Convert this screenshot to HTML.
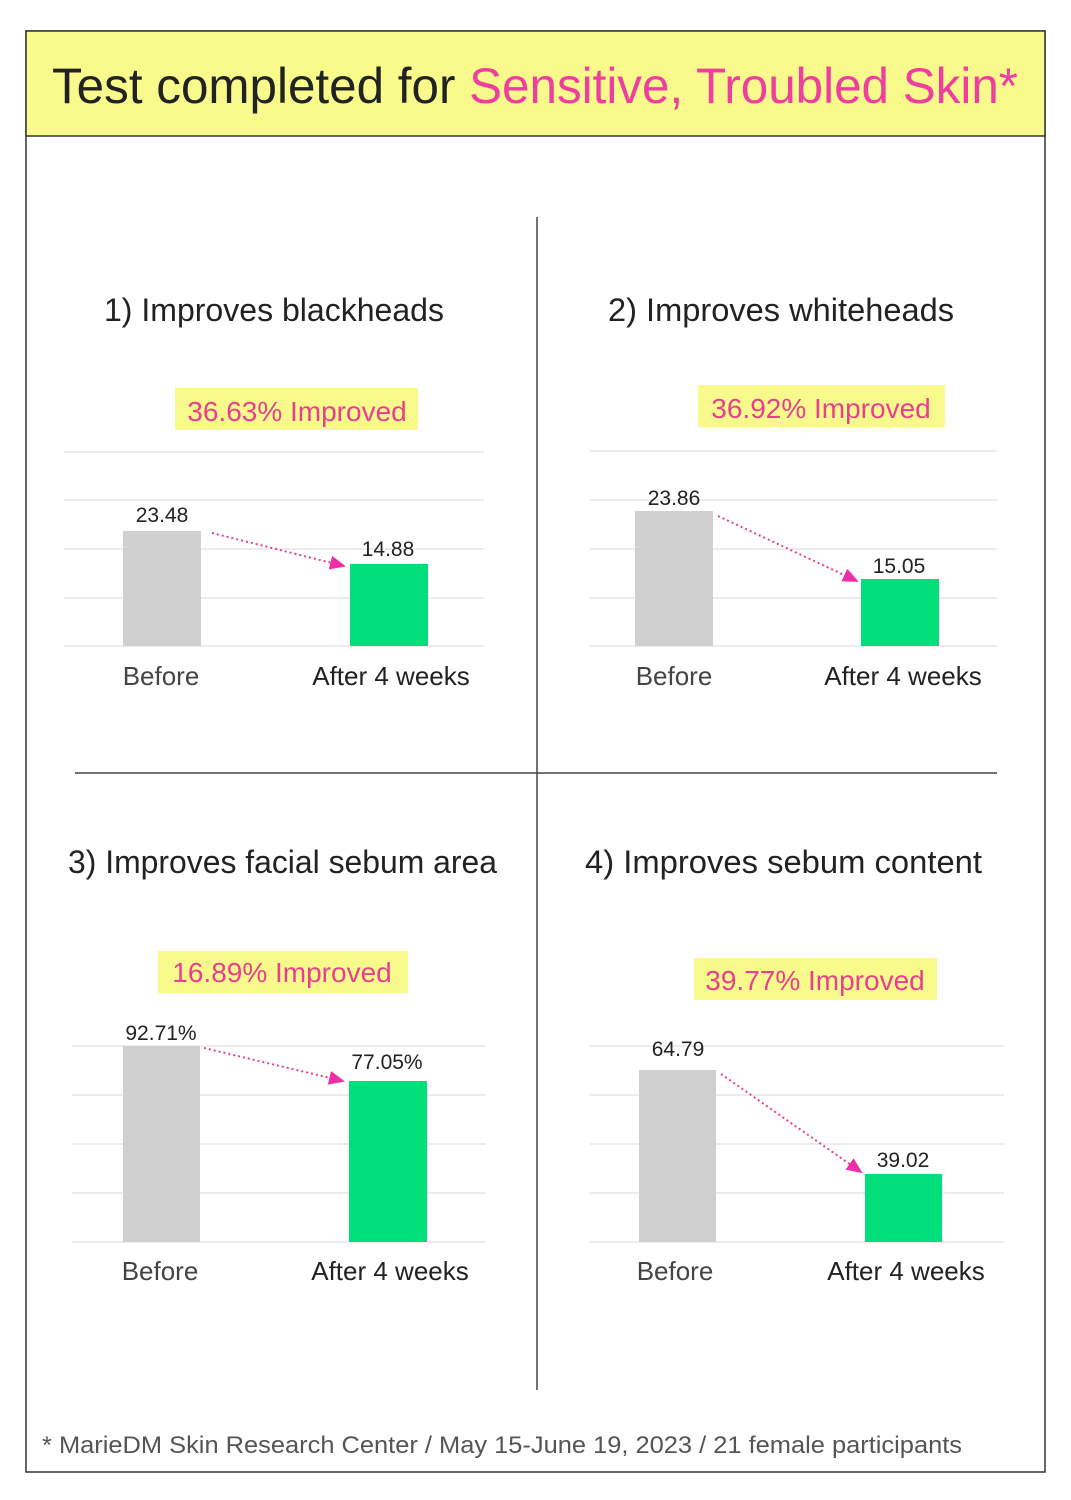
<!DOCTYPE html>
<html><head><meta charset="utf-8"><style>
html,body{margin:0;padding:0;background:#fff}
svg{display:block}
text{font-family:"Liberation Sans",sans-serif}
</style></head><body>
<svg width="1071" height="1500" viewBox="0 0 1071 1500" xmlns="http://www.w3.org/2000/svg">
<defs>
<marker id="ah" markerWidth="16" markerHeight="16" refX="14" refY="8" orient="auto" markerUnits="userSpaceOnUse"><path d="M0,1 L16,8 L0,15 z" fill="#ee2fa8"/></marker>
</defs>
<rect x="26" y="31" width="1019" height="1441" fill="#fff" stroke="#333" stroke-width="1.5"/>
<rect x="26" y="31" width="1019" height="105" fill="#f8fb8c" stroke="#333" stroke-width="1.5"/>
<text x="52" y="103" font-size="50" fill="#222" textLength="966" lengthAdjust="spacingAndGlyphs">Test completed for <tspan fill="#ee3f9e">Sensitive, Troubled Skin*</tspan></text>

<line x1="537" y1="217" x2="537" y2="1390" stroke="#444" stroke-width="1.5"/>
<line x1="75" y1="773" x2="997" y2="773" stroke="#444" stroke-width="1.5"/>

<g stroke="#e6e6e6" stroke-width="1.5">
<line x1="64" y1="452" x2="484" y2="452"/><line x1="64" y1="500" x2="484" y2="500"/><line x1="64" y1="549" x2="484" y2="549"/><line x1="64" y1="598" x2="484" y2="598"/><line x1="64" y1="646" x2="484" y2="646"/>
<line x1="590" y1="451" x2="997" y2="451"/><line x1="590" y1="500" x2="997" y2="500"/><line x1="590" y1="549" x2="997" y2="549"/><line x1="590" y1="598" x2="997" y2="598"/><line x1="590" y1="646" x2="997" y2="646"/>
<line x1="72" y1="1046" x2="486" y2="1046"/><line x1="72" y1="1095" x2="486" y2="1095"/><line x1="72" y1="1144" x2="486" y2="1144"/><line x1="72" y1="1193" x2="486" y2="1193"/><line x1="72" y1="1242" x2="486" y2="1242"/>
<line x1="590" y1="1046" x2="1004" y2="1046"/><line x1="590" y1="1095" x2="1004" y2="1095"/><line x1="590" y1="1144" x2="1004" y2="1144"/><line x1="590" y1="1193" x2="1004" y2="1193"/><line x1="590" y1="1242" x2="1004" y2="1242"/>
</g>

<g font-size="32" fill="#222">
<text x="104" y="321" textLength="340" lengthAdjust="spacingAndGlyphs">1) Improves blackheads</text>
<text x="608" y="321" textLength="346" lengthAdjust="spacingAndGlyphs">2) Improves whiteheads</text>
<text x="68" y="873" textLength="429" lengthAdjust="spacingAndGlyphs">3) Improves facial sebum area</text>
<text x="585" y="873" textLength="397" lengthAdjust="spacingAndGlyphs">4) Improves sebum content</text>
</g>

<g fill="#f8fb8c">
<rect x="175" y="388" width="243" height="42"/>
<rect x="698" y="385" width="247" height="42"/>
<rect x="158" y="951" width="250" height="42"/>
<rect x="694" y="958" width="243" height="42"/>
</g>
<g font-size="28" fill="#e8408e" text-anchor="middle">
<text x="297" y="421">36.63% Improved</text>
<text x="821" y="418">36.92% Improved</text>
<text x="282" y="982">16.89% Improved</text>
<text x="815" y="990">39.77% Improved</text>
</g>

<g fill="#d0d0d0">
<rect x="123" y="531" width="78" height="115"/>
<rect x="635" y="511" width="78" height="135"/>
<rect x="123" y="1046" width="77" height="196"/>
<rect x="639" y="1070" width="77" height="172"/>
</g>
<g fill="#00df7c">
<rect x="350" y="564" width="78" height="82"/>
<rect x="861" y="579" width="78" height="67"/>
<rect x="349" y="1081" width="78" height="161"/>
<rect x="865" y="1174" width="77" height="68"/>
</g>

<g font-size="21" fill="#222" text-anchor="middle">
<text x="162" y="522">23.48</text><text x="388" y="556">14.88</text>
<text x="674" y="505">23.86</text><text x="899" y="573">15.05</text>
<text x="161" y="1040">92.71%</text><text x="387" y="1069">77.05%</text>
<text x="678" y="1056">64.79</text><text x="903" y="1167">39.02</text>
</g>

<g stroke="#e8408e" stroke-width="2" stroke-dasharray="2,3" fill="none" marker-end="url(#ah)">
<line x1="212" y1="533" x2="344" y2="566"/>
<line x1="718" y1="516" x2="857" y2="581"/>
<line x1="204" y1="1048" x2="343" y2="1081"/>
<line x1="721" y1="1074" x2="861" y2="1172"/>
</g>

<g font-size="26" text-anchor="middle">
<text x="161" y="685" fill="#444">Before</text><text x="391" y="685" fill="#222">After 4 weeks</text>
<text x="674" y="685" fill="#444">Before</text><text x="903" y="685" fill="#222">After 4 weeks</text>
<text x="160" y="1280" fill="#444">Before</text><text x="390" y="1280" fill="#222">After 4 weeks</text>
<text x="675" y="1280" fill="#444">Before</text><text x="906" y="1280" fill="#222">After 4 weeks</text>
</g>

<text x="42" y="1453" font-size="24" fill="#555" textLength="920" lengthAdjust="spacingAndGlyphs">* MarieDM Skin Research Center / May 15-June 19, 2023 / 21 female participants</text>
</svg>
</body></html>
